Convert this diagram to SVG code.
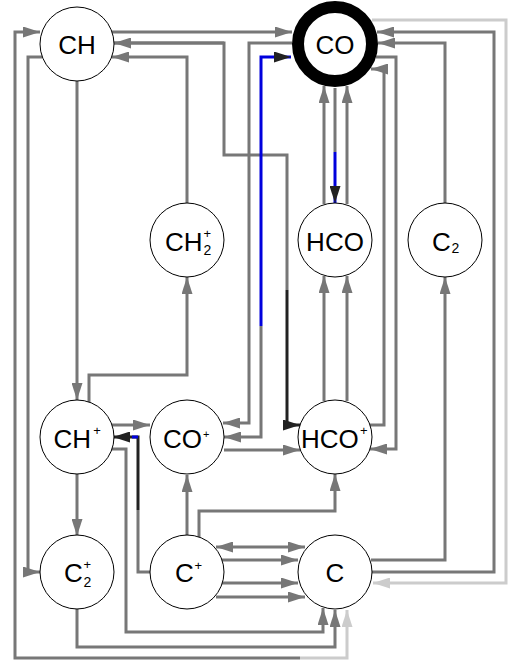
<svg xmlns="http://www.w3.org/2000/svg" width="511" height="662" viewBox="0 0 511 662">
<style>
.e{fill:none;stroke:#777;stroke-width:3;marker-end:url(#ag)}
.n{fill:none;stroke:#777;stroke-width:3}
.d{fill:none;stroke:#222;stroke-width:3}
.b{fill:none;stroke:#0000dd;stroke-width:3}
.l{fill:none;stroke:#ccc;stroke-width:3}
.nd{fill:#fff;stroke:#000;stroke-width:1}
.t{font-family:"Liberation Sans",Arial,sans-serif;font-size:26px;fill:#000}
.s{font-family:"Liberation Sans",Arial,sans-serif;font-size:13px;fill:#000}
.m{text-anchor:middle}
</style>
<defs>
<marker id="ag" viewBox="0 0 17 11" markerWidth="17" markerHeight="11" refX="17" refY="5.5" orient="auto-start-reverse" markerUnits="userSpaceOnUse"><path d="M0,0L17,5.5L0,11z" fill="#777"/></marker>
<marker id="ad" viewBox="0 0 17 11" markerWidth="17" markerHeight="11" refX="17" refY="5.5" orient="auto" markerUnits="userSpaceOnUse"><path d="M0,0L17,5.5L0,11z" fill="#222"/></marker>
<marker id="al" viewBox="0 0 17 11" markerWidth="17" markerHeight="11" refX="17" refY="5.5" orient="auto" markerUnits="userSpaceOnUse"><path d="M0,0L17,5.5L0,11z" fill="#ccc"/></marker>
</defs>
<rect width="511" height="662" fill="#fff"/>
<g id="connectors">
<path class="l" d="M372,20H506V583H373" marker-end="url(#al)"/>
<path class="l" d="M300,658H347V610" marker-end="url(#al)"/>
<path class="e" d="M300,658H15V32H40"/>
<path class="e" d="M112,32H292"/>
<path class="n" d="M287,290V155H224V43H114"/>
<path class="e" d="M224,43H114"/>
<path class="d" d="M287,290V425H300" marker-end="url(#ad)"/>
<path class="e" d="M187,203V57H112"/>
<path class="e" d="M292,43H249V423H223"/>
<path class="e" d="M261,326V437H224"/>
<path class="b" d="M261,326V57H291" marker-end="url(#ad)"/>
<path class="n" d="M335,88V152"/>
<path class="b" d="M335,152V203" marker-end="url(#ad)"/>
<path class="e" d="M324,204V86"/>
<path class="e" d="M347,204V86"/>
<path class="e" d="M324,401V276"/>
<path class="e" d="M347,401V276"/>
<path class="e" d="M370,425H384V69H371"/>
<path class="e" d="M376,57H396V449H370"/>
<path class="e" d="M445,203V43H378"/>
<path class="e" d="M372,572H494V32H377"/>
<path class="e" d="M371,560H445V277"/>
<path class="e" d="M42,57H28V572H40"/>
<path class="e" d="M77,81V400"/>
<path class="e" d="M89,402V375H187V277"/>
<path class="e" d="M112,425H150"/>
<path class="n" d="M150,572H138V510"/>
<path class="d" d="M138,510V437H113" marker-end="url(#ad)"/>
<path class="b" d="M138,437H132"/>
<path class="e" d="M111,449H126V632H323V608"/>
<path class="e" d="M77,473V536"/>
<path class="e" d="M77,608V647H335V610"/>
<path class="e" d="M224,450H300"/>
<path class="e" d="M187,536V475"/>
<path class="e" d="M199,537V511H335V474"/>
<path class="e" d="M216,547H305" marker-start="url(#ag)"/>
<path class="e" d="M222,560H298"/>
<path class="e" d="M222,583H298"/>
<path class="e" d="M216,597H305"/>
</g>
<g id="CH"><circle class="nd" cx="77" cy="44" r="37"/><text class="t m" x="77" y="54">CH</text></g>
<g id="CO"><circle cx="335" cy="44" r="37" fill="#fff" stroke="#000" stroke-width="12"/><text class="t m" x="335" y="54">CO</text></g>
<g id="CH2p"><circle class="nd" cx="187" cy="240" r="37"/><text class="t" x="165" y="251">CH</text><text class="s" x="203.5" y="238">+</text><text class="s" x="203.5" y="255" style="font-size:14px">2</text></g>
<g id="HCO"><circle class="nd" cx="335" cy="240" r="37"/><text class="t m" x="335" y="251">HCO</text></g>
<g id="C2"><circle class="nd" cx="445" cy="240" r="37"/><text class="t" x="432" y="251">C</text><text class="s" x="451.5" y="253" style="font-size:14px">2</text></g>
<g id="CHp"><circle class="nd" cx="77" cy="437" r="37"/><text class="t" x="53.5" y="448">CH</text><text class="s" x="93.3" y="435">+</text></g>
<g id="COp"><circle class="nd" cx="187" cy="437" r="37" stroke-width="3"/><text class="t" x="163" y="448">CO</text><text class="s" x="203" y="438" style="font-size:11px">+</text></g>
<g id="HCOp"><circle class="nd" cx="335" cy="437" r="37"/><text class="t" x="301" y="448">HCO</text><text class="s" x="360" y="435">+</text></g>
<g id="C2p"><circle class="nd" cx="77" cy="572" r="37"/><text class="t" x="64" y="582">C</text><text class="s" x="83.5" y="569">+</text><text class="s" x="83.5" y="586.5" style="font-size:14px">2</text></g>
<g id="Cp"><circle class="nd" cx="187" cy="572" r="37"/><text class="t" x="175" y="582">C</text><text class="s" x="194.5" y="570">+</text></g>
<g id="C"><circle class="nd" cx="335" cy="572" r="37" stroke-width="3"/><text class="t m" x="335" y="582">C</text></g>
</svg>
